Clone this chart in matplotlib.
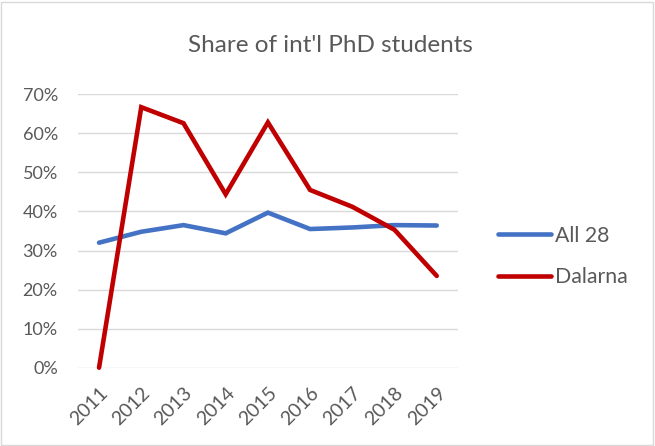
import matplotlib
matplotlib.use("Agg")
import matplotlib.pyplot as plt
from matplotlib.patches import Rectangle
from matplotlib.ticker import PercentFormatter

years = ["2011", "2012", "2013", "2014", "2015", "2016", "2017", "2018", "2019"]
all28 = [32.0, 34.8, 36.5, 34.4, 39.7, 35.5, 35.9, 36.5, 36.4]
dalarna = [0.0, 66.7, 62.6, 44.4, 62.8, 45.5, 41.2, 35.3, 23.5]
series_names = ["All 28", "Dalarna"]

BLUE, RED = "#4472C4", "#C00000"
TXT = "#595959"
plt.rcParams["font.family"] = ["Lato", "DejaVu Sans"]

fig = plt.figure(figsize=(6.55, 4.46), dpi=100)
fig.patches.append(Rectangle((0.002, 0.003), 0.995, 0.993, transform=fig.transFigure,
                             fill=False, edgecolor="#D9D9D9", lw=1))

ax = fig.add_axes([0.119, 0.1756, 0.580, 0.613])
x = range(len(years))
l1, = ax.plot(x, all28, color=BLUE, lw=3.3, solid_capstyle="round", solid_joinstyle="miter", clip_on=False)
l2, = ax.plot(x, dalarna, color=RED, lw=3.3, solid_capstyle="round", solid_joinstyle="miter", clip_on=False)

ax.set_xlim(-0.5, len(years) - 0.5)
ax.set_ylim(0, 70)
ax.set_yticks(range(0, 71, 10))
ax.yaxis.set_major_formatter(PercentFormatter(decimals=0))
ax.set_xticks(list(x))
ax.set_xticklabels(years, rotation=45, ha="right", rotation_mode="anchor")
ax.grid(axis="y", color="#D9D9D9", lw=1)
ax.set_axisbelow(True)
for s in ax.spines.values():
    s.set_visible(False)
ax.tick_params(length=0, colors=TXT)
ax.tick_params(axis="y", pad=14.5, labelsize=13)
ax.tick_params(axis="x", pad=12, labelsize=14)

fig.text(0.504, 0.899, "Share of int'l PhD students", ha="center", va="center",
         fontsize=17.5, color=TXT)

fig.legend([l1, l2], series_names, loc="center left", bbox_to_anchor=(0.761, 0.425),
           frameon=False, fontsize=15.3, labelcolor=TXT, handlelength=2.45,
           handletextpad=0.2, labelspacing=1.0, borderpad=0, borderaxespad=0)

fig.savefig("out.png", dpi=100)
